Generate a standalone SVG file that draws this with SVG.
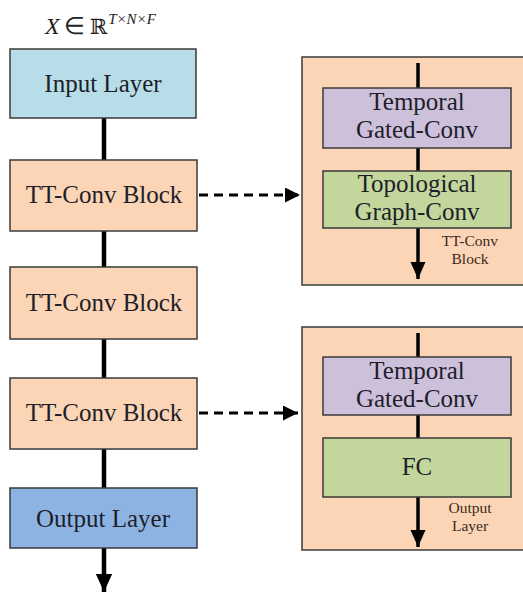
<svg xmlns="http://www.w3.org/2000/svg" width="523" height="592" viewBox="0 0 523 592">
<defs>
<style>
.box{stroke:#3a3a3a;stroke-width:1.5}
.t{font-family:"Liberation Serif","Times New Roman",serif;font-size:25px;fill:#1e1e2a;text-anchor:middle}
.s{font-family:"Liberation Serif","Times New Roman",serif;font-size:15.5px;fill:#3a2a22;text-anchor:middle}
.main{stroke:#000;stroke-width:4.5;fill:none}
.inner{stroke:#000;stroke-width:3.5;fill:none}
.dash{stroke:#000;stroke-width:3;fill:none;stroke-dasharray:9,6}
</style>
<marker id="ah" viewBox="0 0 10 10" refX="10" refY="5" markerWidth="4" markerHeight="3.6" markerUnits="strokeWidth" orient="auto" preserveAspectRatio="none">
<path d="M0,0 L10,5 L0,10 Z" fill="#000"/>
</marker>
<marker id="ahi" viewBox="0 0 10 10" refX="10" refY="5" markerWidth="5" markerHeight="4.4" markerUnits="strokeWidth" orient="auto" preserveAspectRatio="none">
<path d="M0,0 L10,5 L0,10 Z" fill="#000"/>
</marker>
<marker id="ahd" viewBox="0 0 10 10" refX="10" refY="5" markerWidth="5" markerHeight="5" markerUnits="strokeWidth" orient="auto">
<path d="M0,0 L10,5 L0,10 Z" fill="#000"/>
</marker>
</defs>
<rect width="523" height="592" fill="#fff"/>

<g id="connectors">
<line class="main" x1="104" y1="118" x2="104" y2="160"/>
<line class="main" x1="104" y1="231" x2="104" y2="267"/>
<line class="main" x1="104" y1="339" x2="104" y2="378"/>
<line class="main" x1="104" y1="449" x2="104" y2="488"/>
<line class="main" x1="104" y1="548" x2="104" y2="592" marker-end="url(#ah)"/>
<line class="dash" x1="199" y1="195" x2="300" y2="195" marker-end="url(#ahd)"/>
<line class="dash" x1="199" y1="413" x2="298" y2="413" marker-end="url(#ahd)"/>
</g>

<g id="label-x">
<text x="45" y="34" font-family="Liberation Serif,serif" font-size="24" fill="#222"><tspan font-style="italic">X</tspan><tspan dx="4">∈</tspan><tspan dx="5" font-family="DejaVu Serif,serif" font-size="21">ℝ</tspan><tspan dx="1" dy="-10" font-size="15" font-style="italic">T×N×F</tspan></text>
</g>

<g id="input-layer">
<rect class="box" x="10" y="49" width="186" height="69" fill="#b7dde8"/>
<text class="t" x="103" y="92">Input Layer</text>
</g>
<g id="tt-conv-1">
<rect class="box" x="10" y="160" width="187" height="71" fill="#fbd5b5"/>
<text class="t" x="104" y="203">TT-Conv Block</text>
</g>
<g id="tt-conv-2">
<rect class="box" x="10" y="267" width="187" height="72" fill="#fbd5b5"/>
<text class="t" x="104" y="311">TT-Conv Block</text>
</g>
<g id="tt-conv-3">
<rect class="box" x="10" y="378" width="187" height="71" fill="#fbd5b5"/>
<text class="t" x="104" y="421">TT-Conv Block</text>
</g>
<g id="output-layer">
<rect class="box" x="10" y="488" width="187" height="60" fill="#8db3e2"/>
<text class="t" x="103" y="527">Output Layer</text>
</g>

<g id="detail-tt-conv">
<rect class="box" x="302" y="57" width="222" height="228" fill="#fbd5b5"/>
<line class="inner" x1="418" y1="63" x2="418" y2="279" marker-end="url(#ahi)"/>
<g id="temporal-1">
<rect class="box" x="323" y="88" width="188" height="60" fill="#ccc0da"/>
<text class="t" x="417" y="110">Temporal</text>
<text class="t" x="417" y="138">Gated-Conv</text>
</g>
<g id="topological">
<rect class="box" x="323" y="171" width="188" height="57" fill="#c3d69b"/>
<text class="t" x="417" y="192">Topological</text>
<text class="t" x="417" y="220">Graph-Conv</text>
</g>
<text class="s" x="470" y="246">TT-Conv</text>
<text class="s" x="470" y="264">Block</text>
</g>

<g id="detail-output">
<rect class="box" x="302" y="327" width="222" height="223" fill="#fbd5b5"/>
<line class="inner" x1="418" y1="333" x2="418" y2="547" marker-end="url(#ahi)"/>
<g id="temporal-2">
<rect class="box" x="323" y="357" width="188" height="58" fill="#ccc0da"/>
<text class="t" x="417" y="379">Temporal</text>
<text class="t" x="417" y="407">Gated-Conv</text>
</g>
<g id="fc">
<rect class="box" x="323" y="438" width="188" height="59" fill="#c3d69b"/>
<text class="t" x="417" y="475">FC</text>
</g>
<text class="s" x="470" y="513">Output</text>
<text class="s" x="470" y="531">Layer</text>
</g>
</svg>
